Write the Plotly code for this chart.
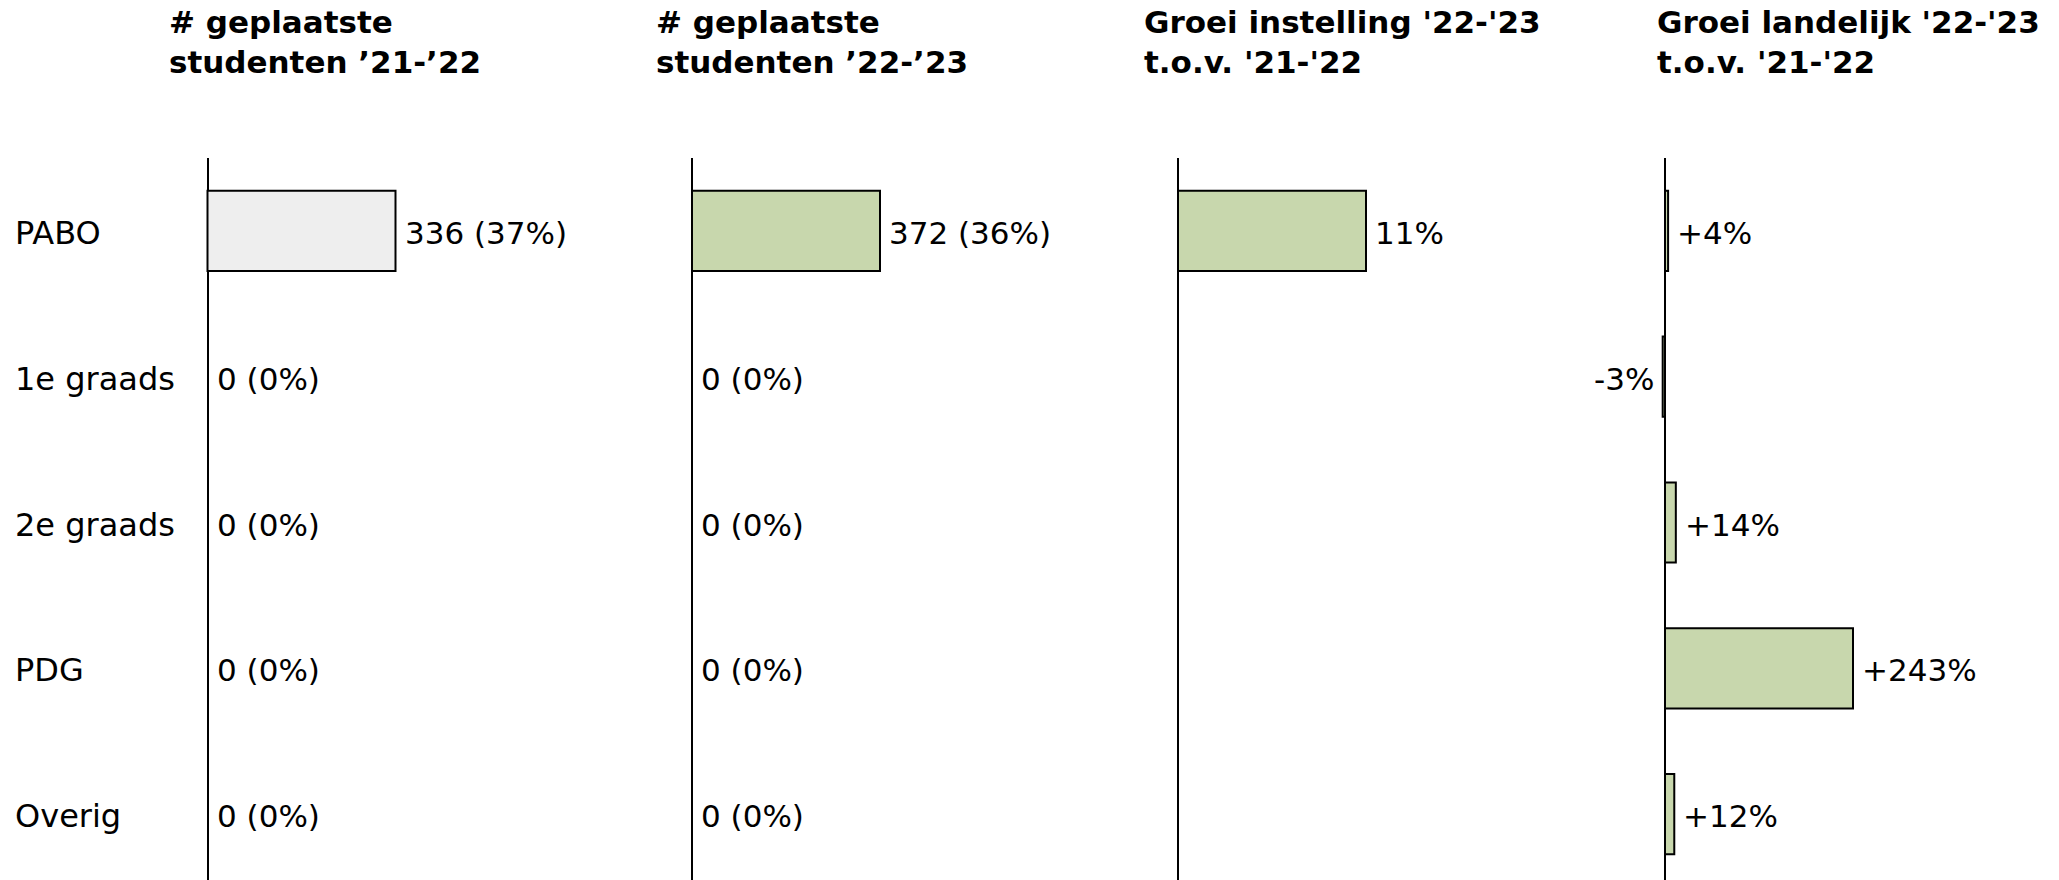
import plotly.graph_objects as go

# ---------------- data ----------------
categories = ["PABO", "1e graads", "2e graads", "PDG", "Overig"]
placed_2122 = [336, 0, 0, 0, 0]
share_2122 = [37, 0, 0, 0, 0]
placed_2223 = [372, 0, 0, 0, 0]
share_2223 = [36, 0, 0, 0, 0]
growth_institution = [11, None, None, None, None]
growth_national = [4, -3, 14, 243, 12]

titles = [
    "# geplaatste<br>studenten \u201921-\u201922",
    "# geplaatste<br>studenten \u201922-\u201923",
    "Groei instelling '22-'23<br>t.o.v. '21-'22",
    "Groei landelijk '22-'23<br>t.o.v. '21-'22",
]

labels_1 = [f"{v} ({p}%)" for v, p in zip(placed_2122, share_2122)]
labels_2 = [f"{v} ({p}%)" for v, p in zip(placed_2223, share_2223)]
labels_3 = [None if v is None else f"{v}%" for v in growth_institution]
labels_4 = [f"{v:+d}%" for v in growth_national]

# ---------------- layout constants ----------------
W, H = 2059, 880
PLOT_TOP = 158
ZERO_PX = [207.5, 692, 1178, 1665]
BAR_PX = 188
DOMAIN_PX = 380
PAD_PX = 6
TITLE_X = [167, 654, 1142, 1655]
TITLE_MID = 42
FONT = "DejaVu Sans"
GREY = "#EEEEEE"
GREEN = "#C8D7AD"

panels = [
    (placed_2122, labels_1, GREY),
    (placed_2223, labels_2, GREEN),
    (growth_institution, labels_3, GREEN),
    (growth_national, labels_4, GREEN),
]

fig = go.Figure()
annotations = []
layout_axes = {}

for i, (vals, labs, col) in enumerate(panels):
    n = i + 1
    xname = "x" if n == 1 else f"x{n}"
    axkey = "xaxis" if n == 1 else f"xaxis{n}"
    maxv = max(abs(v) for v in vals if v is not None)
    upp = maxv / BAR_PX
    rng = [-PAD_PX * upp, (DOMAIN_PX - PAD_PX) * upp]
    dom = [(ZERO_PX[i] - PAD_PX) / W, (ZERO_PX[i] - PAD_PX + DOMAIN_PX) / W]
    bar_vals = [v if v else None for v in vals]  # no outline stub for zero bars
    fig.add_trace(go.Bar(
        x=bar_vals, y=categories, orientation="h", xaxis=xname, yaxis="y",
        marker=dict(color=col, line=dict(color="black", width=2)),
        width=0.55, showlegend=False, hoverinfo="skip", cliponaxis=False,
    ))
    layout_axes[axkey] = dict(
        domain=dom, range=rng, showgrid=False, showticklabels=False,
        zeroline=True, zerolinecolor="black", zerolinewidth=1.5,
        showline=False, ticks="", anchor="y", fixedrange=True,
    )
    for v, lab, cat in zip(vals, labs, categories):
        if v is None or lab is None:
            continue
        neg = v < 0
        annotations.append(dict(
            x=v, y=cat, xref=xname, yref="y", text=lab, showarrow=False,
            xanchor="right" if neg else "left", yanchor="middle",
            xshift=-7 if neg else 7, yshift=-2,
            font=dict(family=FONT, size=31, color="black"),
        ))
    annotations.append(dict(
        x=TITLE_X[i] / W, y=1 - TITLE_MID / H, xref="paper", yref="paper",
        text=titles[i], showarrow=False, xanchor="left", yanchor="middle",
        align="left",
        font=dict(family=FONT, size=31, color="black", weight=700),
    ))

for cat in categories:
    annotations.append(dict(
        x=13 / W, y=cat, xref="paper", yref="y", text=cat, showarrow=False,
        xanchor="left", yanchor="middle", yshift=-2,
        font=dict(family=FONT, size=32, color="black"),
    ))

fig.update_layout(
    width=W, height=H,
    margin=dict(l=0, r=0, t=0, b=0),
    paper_bgcolor="white", plot_bgcolor="white",
    yaxis=dict(
        type="category", categoryorder="array", categoryarray=categories,
        range=[4.452, -0.5], domain=[0, 1 - PLOT_TOP / H],
        showticklabels=False, showgrid=False, zeroline=False, showline=False,
        ticks="", fixedrange=True,
    ),
    annotations=annotations,
    **layout_axes,
)

fig.write_html(
    "out.html",
    config={"displayModeBar": False},
    post_script="document.body.style.margin='0';document.body.style.overflow='hidden';",
)
